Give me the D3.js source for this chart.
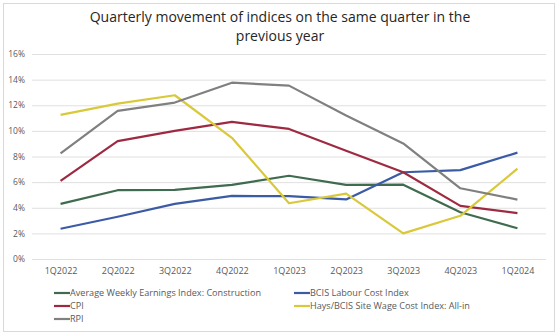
<!DOCTYPE html>
<html>
<head>
<meta charset="utf-8">
<script src="https://cdn.jsdelivr.net/npm/d3@7"></script>
<style>
  body { margin: 0; background: #fff; }
  text { font-family: "Open Sans", "Noto Sans", sans-serif; }
</style>
</head>
<body>
<div id="main"></div>
<script>
// data
var quarters = ["1Q2022", "2Q2022", "3Q2022", "4Q2022", "1Q2023", "2Q2023", "3Q2023", "4Q2023", "1Q2024"];
var awe = [4.3, 5.37, 5.4, 5.78, 6.5, 5.78, 5.8, 3.65, 2.4];
var bcis = [2.36, 3.3, 4.3, 4.92, 4.9, 4.65, 6.77, 6.94, 8.3];
var cpi = [6.1, 9.2, 10.0, 10.7, 10.15, 8.45, 6.77, 4.15, 3.58];
var hays = [11.25, 12.13, 12.78, 9.46, 4.35, 5.1, 2.0, 3.37, 7.05];
var rpi = [8.24, 11.56, 12.21, 13.76, 13.53, 11.2, 9.02, 5.52, 4.64];
var yTicks = [0, 2, 4, 6, 8, 10, 12, 14, 16];

var series = [
    {name: "Average Weekly Earnings Index: Construction", values: awe, color: "#3f6b4f"},
    {name: "BCIS Labour Cost Index", values: bcis, color: "#3b5ba5"},
    {name: "CPI", values: cpi, color: "#9e2a42"},
    {name: "Hays/BCIS Site Wage Cost Index: All-in", values: hays, color: "#d9c93a"},
    {name: "RPI", values: rpi, color: "#808080"}
];

var width = 560;
var height = 336;
var plotLeft = 32, plotRight = 546, plotTop = 54, plotBottom = 259;

var svg = d3.select("#main").append("svg")
    .attr("width", width)
    .attr("height", height);

svg.append("rect")
    .attr("x", 3.5).attr("y", 3.5)
    .attr("width", 551).attr("height", 328)
    .attr("fill", "#fff")
    .attr("stroke", "#d9d9d9");

// title, two lines
var titleLines = ["Quarterly movement of indices on the same quarter in the", "previous year"];
svg.selectAll(".title")
    .data(titleLines)
    .enter().append("text")
    .attr("class", "title")
    .attr("x", 280)
    .attr("y", function(d, i) { return 22 + i * 19; })
    .attr("text-anchor", "middle")
    .attr("font-size", "14px")
    .attr("fill", "#262626")
    .text(function(d) { return d; });

var x = d3.scalePoint()
    .domain(quarters)
    .range([plotLeft, plotRight])
    .padding(0.5);

var y = d3.scaleLinear()
    .domain([0, 16])
    .range([plotBottom, plotTop]);

// gridlines + y labels
var yAxis = svg.append("g")
    .attr("transform", "translate(" + plotLeft + ",0)")
    .call(d3.axisLeft(y).tickValues(yTicks).tickSize(-(plotRight - plotLeft)).tickFormat(function(d) { return d + "%"; }));
yAxis.select(".domain").remove();
yAxis.selectAll("line").attr("stroke", "#e0e0e0").attr("stroke-width", 1);
yAxis.selectAll("text")
    .attr("x", -7)
    .attr("font-size", "8.5px")
    .attr("fill", "#595959")
    .style("font-family", "'Open Sans', sans-serif");

var xAxis = svg.append("g")
    .attr("transform", "translate(0," + plotBottom + ")")
    .call(d3.axisBottom(x).tickSize(0).tickPadding(9));
xAxis.select(".domain").remove();
xAxis.selectAll("text")
    .attr("font-size", "9px")
    .attr("fill", "#595959")
    .style("font-family", "'Open Sans', sans-serif");

var line = d3.line()
    .x(function(d, i) { return x(quarters[i]); })
    .y(function(d) { return y(d); });

for (var i = 0; i < series.length; i++) {
    svg.append("path")
        .datum(series[i].values)
        .attr("fill", "none")
        .attr("stroke", series[i].color)
        .attr("stroke-width", 2.2)
        .attr("stroke-linejoin", "round")
        .attr("d", line);
}

// legend
var legendPos = [[54, 293], [294, 293], [54, 306], [294, 306], [54, 319]];
for (var j = 0; j < series.length; j++) {
    var g = svg.append("g").attr("transform", "translate(" + legendPos[j][0] + "," + legendPos[j][1] + ")");
    g.append("line")
        .attr("x1", 0).attr("x2", 16)
        .attr("y1", 0).attr("y2", 0)
        .attr("stroke", series[j].color)
        .attr("stroke-width", 2.2);
    g.append("text")
        .attr("x", 16).attr("y", 3)
        .attr("font-size", "9.1px")
        .attr("fill", "#595959")
        .text(series[j].name);
}
</script>
</body>
</html>
